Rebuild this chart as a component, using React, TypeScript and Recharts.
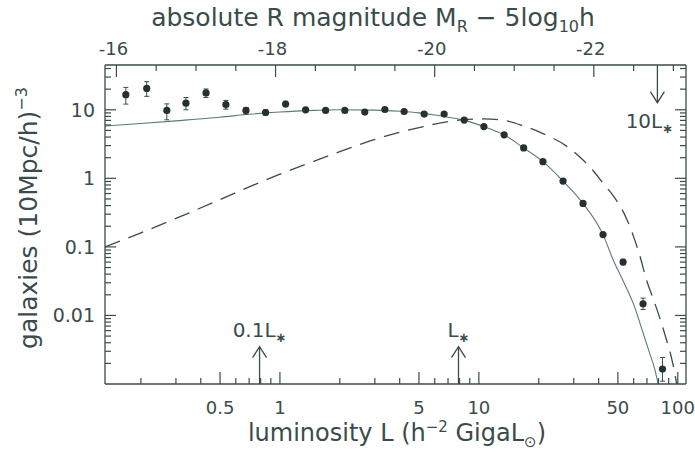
import React from "react";
import {
  ComposedChart,
  XAxis,
  YAxis,
  Scatter,
  Line,
  ErrorBar,
  ReferenceLine,
} from "recharts";

const INK = "#3a4b4b";
const CURVE = "#5a7a7a";
const DOT = "#263030";
const FONT = "'DejaVu Sans', sans-serif";

// measured bins: luminosity (h^-2 GigaL_sun) and galaxies per (10Mpc/h)^3
const binL = [
  0.168, 0.214, 0.27, 0.337, 0.425, 0.535, 0.675, 0.847, 1.068, 1.346, 1.697,
  2.12, 2.67, 3.37, 4.21, 5.31, 6.69, 8.44, 10.6, 13.4, 16.8, 21.0, 26.5, 33.4,
  42.1, 53.1, 66.9, 83.8,
];
const binN = [
  16.6, 20.5, 9.77, 12.5, 17.6, 11.9, 9.77, 9.13, 12.1, 10.0, 9.77, 9.77, 9.25,
  10.1, 9.44, 8.65, 8.65, 7.07, 5.69, 4.31, 2.78, 1.75, 0.913, 0.431, 0.151,
  0.0601, 0.0148, 0.00165,
];
// ends of the error bars (null = bar hidden under the dot)
const binHi = [
  21.2, 25.7, 12.2, 15.1, 20.1, 13.7, 10.8, 10.0, 13.3, null, null, null, null,
  null, null, null, null, null, null, null, null, null, null, null, null, 0.066,
  0.0179, 0.00244,
];
const binLo = [
  12.1, 15.7, 7.14, 10.0, 15.1, 10.2, 8.65, 8.43, 11.1, null, null, null, null,
  null, null, null, null, null, null, null, null, null, null, null, null, 0.055,
  0.0122, 0.0011,
];

// solid fit
const fitL = [
  0.132, 0.2, 0.3, 0.5, 0.7, 1, 1.5, 2, 3, 4, 5, 6, 7, 8.44, 10.6, 13.4, 16.8,
  21, 26.5, 33.4, 42.1, 47.3, 53.1, 60, 66.9, 72, 76.6, 80,
];
const fitN = [
  5.8, 6.3, 6.9, 7.8, 8.6, 9.3, 9.8, 10.0, 9.9, 9.5, 9.0, 8.4, 7.8, 7.07, 5.69,
  4.31, 2.78, 1.75, 0.913, 0.431, 0.151, 0.065, 0.032, 0.0145, 0.0056, 0.0029,
  0.00165, 0.00095,
];

// dashed curve
const wtdL = [
  0.132, 0.2, 0.3, 0.5, 0.7, 1, 1.5, 2, 3, 4, 5, 6, 7, 8.44, 10.6, 13.4, 16.8,
  21, 27.6, 33.4, 37.5, 42.1, 47.3, 55.2, 60, 64.4, 69.6, 75, 81.2, 87, 93,
  98.4, 102,
];
const wtdN = [
  0.1, 0.16, 0.26, 0.49, 0.75, 1.15, 1.8, 2.45, 3.7, 4.7, 5.5, 6.2, 6.7, 7.2,
  7.35, 7.0, 5.8, 4.5, 2.95, 1.85, 1.3, 0.85, 0.56, 0.26, 0.14, 0.075, 0.033,
  0.018, 0.0092, 0.0048, 0.0024, 0.00105, 0.0005,
];

// axis ticks
const lumMajor = [0.5, 1, 5, 10, 50, 100];
const lumMinor = [
  0.2, 0.3, 0.4, 0.6, 0.7, 0.8, 0.9, 2, 3, 4, 6, 7, 8, 9, 20, 30, 40, 60, 70,
  80, 90,
];
const magMajor = [-16, -18, -20, -22];
const magMinor = [
  -16.5, -17, -17.5, -18.5, -19, -19.5, -20.5, -21, -21.5, -22.5, -23,
];
const nMajor = [0.01, 0.1, 1, 10];
const nMinor = [
  0.002, 0.003, 0.004, 0.005, 0.006, 0.007, 0.008, 0.009, 0.02, 0.03, 0.04,
  0.05, 0.06, 0.07, 0.08, 0.09, 0.2, 0.3, 0.4, 0.5, 0.6, 0.7, 0.8, 0.9, 2, 3, 4,
  5, 6, 7, 8, 9, 20, 30, 40,
];

const Lstar = 7.9;
const M0 = -18.055; // magnitude at L = 1
const magToL = (m: number) => Math.pow(10, (M0 - m) / 2.5);
const lToMag = (l: number) => Math.round((M0 - 2.5 * Math.log10(l)) * 2) / 2;

const points = binL.map((x, i) => ({
  x,
  y: binN[i],
  err: [binN[i] - (binLo[i] ?? binN[i]), (binHi[i] ?? binN[i]) - binN[i]],
}));
const fit = fitL.map((x, i) => ({ x, y: fitN[i] }));
const wtd = wtdL.map((x, i) => ({ x, y: wtdN[i] }));

const txt = { fill: INK, fontFamily: FONT };

function BottomTick(p: any) {
  const v = p.payload.value;
  const major = lumMajor.includes(v);
  return (
    <g>
      <line x1={p.x} y1={p.y} x2={p.x} y2={p.y - (major ? 12 : 6)} stroke={INK} strokeWidth={1.2} />
      {major && (
        <text x={p.x} y={p.y + 30} textAnchor="middle" fontSize={18} {...txt}>
          {v}
        </text>
      )}
    </g>
  );
}

function TopTick(p: any) {
  const m = lToMag(p.payload.value);
  const major = magMajor.includes(m);
  return (
    <g>
      <line x1={p.x} y1={p.y} x2={p.x} y2={p.y + (major ? 12 : 6)} stroke={INK} strokeWidth={1.2} />
      {major && (
        <text x={p.x - 3} y={p.y - 10} textAnchor="middle" fontSize={18} {...txt}>
          {m}
        </text>
      )}
    </g>
  );
}

function LeftTick(p: any) {
  const v = p.payload.value;
  const major = nMajor.includes(v);
  return (
    <g>
      <line x1={p.x} y1={p.y} x2={p.x + (major ? 11 : 6)} y2={p.y} stroke={INK} strokeWidth={1.2} />
      {major && (
        <text x={p.x - 10} y={p.y + 7} textAnchor="end" fontSize={19} {...txt}>
          {v}
        </text>
      )}
    </g>
  );
}

function RightTick(p: any) {
  const major = nMajor.includes(p.payload.value);
  return (
    <line x1={p.x} y1={p.y} x2={p.x - (major ? 11 : 6)} y2={p.y} stroke={INK} strokeWidth={1.2} />
  );
}

function Arrow(p: any) {
  const { x1, y1, x2, y2, text } = p;
  const s = y2 < y1 ? 1 : -1;
  const up = s === 1;
  return (
    <g>
      <line x1={x1} y1={y1} x2={x2} y2={y2} stroke={INK} strokeWidth={1.3} />
      <polyline
        points={`${x2 - 7},${y2 + s * 11} ${x2},${y2} ${x2 + 7},${y2 + s * 11}`}
        fill="none"
        stroke={INK}
        strokeWidth={1.3}
      />
      <text
        x={up ? x2 : x2 - 8}
        y={up ? y2 - 10 : y2 + 25}
        textAnchor="middle"
        fontSize={20}
        {...txt}
      >
        {text}
        <tspan dy={5} fontSize={13} fontWeight="bold">∗</tspan>
      </text>
    </g>
  );
}

const Dot = (p: any) => <circle cx={p.cx} cy={p.cy} r={3.6} fill={DOT} />;

export default function App() {
  const lumDomain = [0.132, 110];
  const nDomain = [0.001, 45];
  return (
    <div style={{ position: "absolute", left: 0, top: 0, width: 695, height: 459, background: "#fff" }}>
      <ComposedChart width={695} height={459} margin={{ top: 0, right: 0, bottom: 0, left: 0 }}>
        <XAxis
          xAxisId="L"
          dataKey="x"
          type="number"
          scale="log"
          domain={lumDomain}
          allowDataOverflow
          ticks={[...lumMinor, ...lumMajor]}
          interval={0}
          tick={BottomTick}
          tickLine={false}
          tickSize={0}
          tickMargin={0}
          axisLine={{ stroke: INK, strokeWidth: 1.3 }}
          height={75}
        />
        <XAxis
          xAxisId="M"
          orientation="top"
          dataKey="x"
          type="number"
          scale="log"
          domain={lumDomain}
          allowDataOverflow
          ticks={[...magMajor, ...magMinor].map(magToL)}
          interval={0}
          tick={TopTick}
          tickLine={false}
          tickSize={0}
          tickMargin={0}
          axisLine={{ stroke: INK, strokeWidth: 1.3 }}
          height={65}
        />
        <YAxis
          yAxisId="n"
          dataKey="y"
          type="number"
          scale="log"
          domain={nDomain}
          allowDataOverflow
          ticks={[...nMinor, ...nMajor]}
          interval={0}
          tick={LeftTick}
          tickLine={false}
          tickSize={0}
          tickMargin={0}
          axisLine={{ stroke: INK, strokeWidth: 1.3 }}
          width={105}
        />
        <YAxis
          yAxisId="r"
          orientation="right"
          dataKey="y"
          type="number"
          scale="log"
          domain={nDomain}
          allowDataOverflow
          ticks={[...nMinor, ...nMajor]}
          interval={0}
          tick={RightTick}
          tickLine={false}
          tickSize={0}
          tickMargin={0}
          axisLine={{ stroke: INK, strokeWidth: 1.3 }}
          width={9}
        />
        <Line
          xAxisId="L"
          yAxisId="n"
          data={fit}
          dataKey="y"
          type="monotone"
          stroke={CURVE}
          strokeWidth={1.1}
          dot={false}
          isAnimationActive={false}
        />
        <Line
          xAxisId="M"
          yAxisId="r"
          data={wtd}
          dataKey="y"
          type="monotone"
          stroke={INK}
          strokeWidth={1.3}
          strokeDasharray="16 9"
          dot={false}
          isAnimationActive={false}
        />
        <Scatter
          xAxisId="L"
          yAxisId="n"
          data={points}
          dataKey="y"
          shape={Dot}
          isAnimationActive={false}
        >
          <ErrorBar dataKey="err" direction="y" width={2.5} stroke={INK} strokeWidth={1} />
        </Scatter>
        <ReferenceLine
          xAxisId="L"
          yAxisId="n"
          ifOverflow="visible"
          segment={[{ x: Lstar / 10, y: 0.001 }, { x: Lstar / 10, y: 0.0035 }]}
          shape={(p: any) => <Arrow {...p} text="0.1L" />}
        />
        <ReferenceLine
          xAxisId="L"
          yAxisId="n"
          ifOverflow="visible"
          segment={[{ x: Lstar, y: 0.001 }, { x: Lstar, y: 0.0035 }]}
          shape={(p: any) => <Arrow {...p} text="L" />}
        />
        <ReferenceLine
          xAxisId="L"
          yAxisId="n"
          ifOverflow="visible"
          segment={[{ x: Lstar * 10, y: 45 }, { x: Lstar * 10, y: 12.7 }]}
          shape={(p: any) => <Arrow {...p} text="10L" />}
        />
      </ComposedChart>
      <svg
        width={695}
        height={459}
        style={{ position: "absolute", left: 0, top: 0, pointerEvents: "none" }}
      >
        <text x={373} y={26} textAnchor="middle" fontSize={25} {...txt}>
          absolute R magnitude M
          <tspan dy={6} fontSize={16}>R</tspan>
          <tspan dy={-6}> − 5log</tspan>
          <tspan dy={6} fontSize={16}>10</tspan>
          <tspan dy={-6}>h</tspan>
        </text>
        <text x={397} y={441} textAnchor="middle" fontSize={24} {...txt}>
          luminosity L (h
          <tspan dy={-9} fontSize={15}>−2</tspan>
          <tspan dy={9}> GigaL</tspan>
          <tspan dy={6} fontSize={15}>⊙</tspan>
          <tspan dy={-6}>)</tspan>
        </text>
        <text
          x={37}
          y={218}
          transform="rotate(-90 37 218)"
          textAnchor="middle"
          fontSize={25}
          {...txt}
        >
          galaxies (10Mpc/h)
          <tspan dy={-10} fontSize={16}>−3</tspan>
        </text>
      </svg>
    </div>
  );
}
